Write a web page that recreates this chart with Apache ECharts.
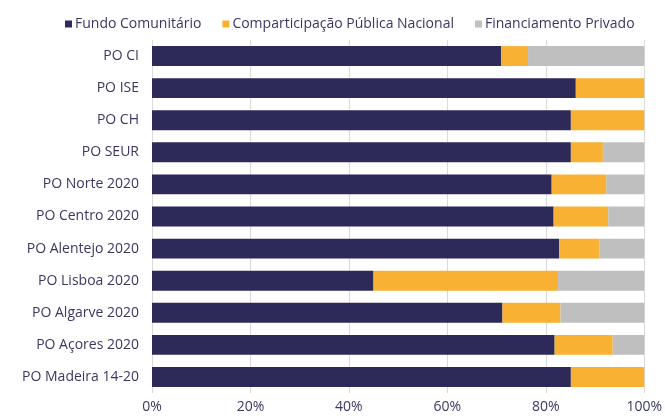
<!DOCTYPE html>
<html>
<head>
<meta charset="utf-8">
<script src="https://cdn.jsdelivr.net/npm/echarts@6/dist/echarts.min.js"></script>
<style>
  html, body { margin: 0; padding: 0; background: #fff; }
  #chart { width: 665px; height: 416px; }
</style>
</head>
<body>
<div id="chart"></div>
<script>
// Programas Operacionais, de cima para baixo
const categories = ['PO CI', 'PO ISE', 'PO CH', 'PO SEUR', 'PO Norte 2020', 'PO Centro 2020',
    'PO Alentejo 2020', 'PO Lisboa 2020', 'PO Algarve 2020', 'PO Açores 2020', 'PO Madeira 14-20'];
const seriesNames = ['Fundo Comunitário', 'Comparticipação Pública Nacional', 'Financiamento Privado'];

// percentagens (%)
const fundoComunitario = [70.9, 86.1, 85.1, 85.1, 81.2, 81.6, 82.7, 45.0, 71.2, 81.8, 85.1];
const publicaNacional  = [5.5, 13.9, 14.9, 6.5, 11.1, 11.1, 8.2, 37.5, 11.8, 11.8, 14.9];
const privado          = [23.6, 0, 0, 8.4, 7.7, 7.3, 9.1, 17.5, 17.0, 6.4, 0];

const colors = ['#2d2a5a', '#f8b133', '#bfbfbf'];
const textColor = '#3a3862';
const font = '"Open Sans", sans-serif';

const chart = echarts.init(document.getElementById('chart'));

const makeSeries = (name, data, i) => ({
    name: name,
    type: 'bar',
    stack: 'total',
    barWidth: '62%',
    data: data,
    itemStyle: { color: colors[i] },
    emphasis: { disabled: true }
});

chart.setOption({
    animation: false,
    textStyle: { fontFamily: font },
    legend: {
        top: 12,
        left: 60,
        itemWidth: 7,
        itemHeight: 7,
        itemGap: 21,
        icon: 'rect',
        textStyle: { color: textColor, fontSize: 14, fontFamily: font, padding: [0, 0, 0, -2] },
        data: seriesNames
    },
    grid: { left: 152, right: 20, top: 40, bottom: 23 },
    xAxis: {
        type: 'value',
        min: 0,
        max: 100,
        interval: 20,
        axisLine: { show: false },
        axisTick: { show: false },
        axisLabel: { color: textColor, fontSize: 14, fontFamily: font, margin: 7, formatter: '{value}%' },
        splitLine: { lineStyle: { color: '#d9d9d9', width: 1 } }
    },
    yAxis: {
        type: 'category',
        inverse: true,
        data: categories,
        axisLine: { show: false },
        axisTick: { show: false },
        axisLabel: { color: textColor, fontSize: 14, fontFamily: font, margin: 13 }
    },
    series: [
        makeSeries(seriesNames[0], fundoComunitario, 0),
        makeSeries(seriesNames[1], publicaNacional, 1),
        makeSeries(seriesNames[2], privado, 2)
    ]
});

window.addEventListener('resize', () => chart.resize());
</script>
</body>
</html>
